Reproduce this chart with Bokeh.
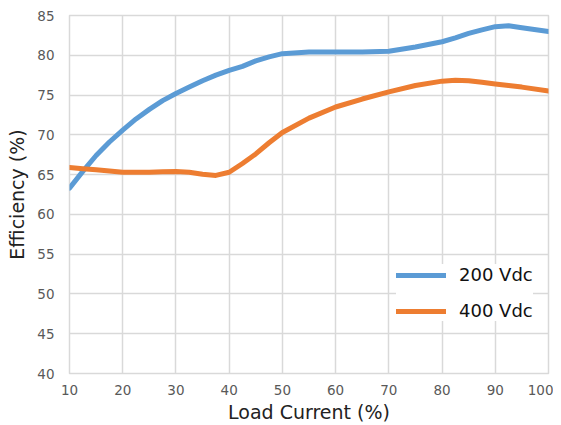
from bokeh.plotting import figure
from bokeh.models import FixedTicker, Range1d, Legend, LegendItem
from bokeh.embed import file_html
from bokeh.resources import INLINE

load_pct = [10, 12.5, 15, 17.5, 20, 22.5, 25, 27.5, 30, 32.5, 35, 37.5, 40, 42.5, 45, 47.5, 50, 55, 60, 65, 70, 75, 80, 82.5, 85, 87.5, 90, 92.5, 95, 100]
eff_200 = [63.3, 65.4, 67.4, 69.1, 70.6, 72.0, 73.2, 74.3, 75.2, 76.0, 76.8, 77.5, 78.1, 78.6, 79.3, 79.8, 80.2, 80.4, 80.4, 80.4, 80.5, 81.05, 81.7, 82.2, 82.75, 83.2, 83.6, 83.7, 83.45, 83.0]
eff_400 = [65.9, 65.75, 65.6, 65.45, 65.3, 65.3, 65.3, 65.35, 65.4, 65.3, 65.05, 64.9, 65.3, 66.4, 67.6, 69.0, 70.3, 72.1, 73.5, 74.5, 75.4, 76.2, 76.75, 76.85, 76.8, 76.6, 76.4, 76.2, 76.0, 75.5]
x_ticks = [10, 20, 30, 40, 50, 60, 70, 80, 90, 100]
y_ticks = [40, 45, 50, 55, 60, 65, 70, 75, 80, 85]
series_names = ["200 Vdc", "400 Vdc"]
colors = ["#5B9BD5", "#ED7D31"]

p = figure(width=553, height=425, output_backend="svg", toolbar_location=None,
           x_range=Range1d(10, 100), y_range=Range1d(40, 85),
           min_border_left=69, min_border_right=5, min_border_top=15, min_border_bottom=52)

grid_col = "#D9D9D9"
p.outline_line_color = grid_col
p.outline_line_width = 1.5
for ax in (p.xaxis, p.yaxis):
    ax.axis_line_color = None
    ax.major_tick_line_color = None
    ax.minor_tick_line_color = None
    ax.major_tick_out = 0
    ax.major_tick_in = 0
    ax.minor_tick_out = 0
    ax.major_label_text_font = "DejaVu Sans"
    ax.major_label_text_font_size = "13.5px"
    ax.major_label_text_color = "#595959"
    ax.axis_label_text_font = "DejaVu Sans"
    ax.axis_label_text_font_size = "19px"
    ax.axis_label_text_font_style = "normal"
    ax.axis_label_text_color = "#222222"
p.xaxis.ticker = FixedTicker(ticks=x_ticks)
p.yaxis.ticker = FixedTicker(ticks=y_ticks)
p.xaxis.major_label_standoff = 11
p.yaxis.major_label_standoff = 15
p.xaxis.axis_label = "Load Current (%)"
p.yaxis.axis_label = "Efficiency (%)"
p.xaxis.axis_label_standoff = 3
p.yaxis.axis_label_standoff = 6
p.xgrid.grid_line_color = grid_col
p.ygrid.grid_line_color = grid_col
p.xgrid.grid_line_width = 1.5
p.ygrid.grid_line_width = 1.5

r1 = p.line(load_pct, eff_200, line_color=colors[0], line_width=5, line_cap="round", line_join="round")
r2 = p.line(load_pct, eff_400, line_color=colors[1], line_width=5, line_cap="round", line_join="round")

legend = Legend(items=[LegendItem(label=series_names[0], renderers=[r1]),
                       LegendItem(label=series_names[1], renderers=[r2])],
                location=(327, 52))
legend.border_line_color = None
legend.background_fill_color = "white"
legend.background_fill_alpha = 1.0
legend.label_text_font = "DejaVu Sans"
legend.label_text_font_size = "18px"
legend.label_text_color = "#111111"
legend.glyph_width = 50
legend.glyph_height = 20
legend.spacing = 15
legend.padding = 8
legend.margin = 0
legend.label_standoff = 13
p.add_layout(legend, "center")

open("out.html", "w").write(file_html(p, INLINE))
